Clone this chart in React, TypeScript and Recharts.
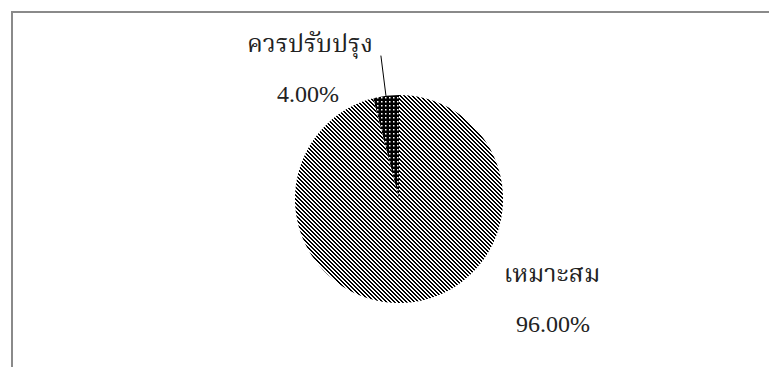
import React from "react";
import { PieChart, Pie, Cell } from "recharts";

const categories = ["ควรปรับปรุง", "เหมาะสม"];
const shares = [4.0, 96.0];
const fills = ["url(#dotFill)", "url(#stripeFill)"];

const data = categories.map((name, i) => ({ name, value: shares[i] }));

const CX = 399;
const CY = 199;
const R = 104;
const RAD = Math.PI / 180;

// label placement relative to the pie centre (name, then percent)
const labelPos = [
  { name: [-89, -147], pct: [-91, -97] },
  { name: [153, 83], pct: [154, 133] },
];

const thaiFont = "'Liberation Serif', 'Noto Serif Thai', 'Noto Sans Thai', serif";

// 4x4 tile of a "\" hatch, one pixel per rect so it stays crisp
const hatchPixels = [
  [0, 0], [1, 0], [1, 1], [2, 1], [2, 2], [3, 2], [3, 3], [0, 3],
];

function renderLabel(props: any) {
  const { cx, cy, midAngle, outerRadius, index, name, value } = props;
  const pos = labelPos[index];
  const cos = Math.cos(-midAngle * RAD);
  const sin = Math.sin(-midAngle * RAD);
  return (
    <g>
      {index === 0 && (
        <line
          x1={cx + outerRadius * cos}
          y1={cy + outerRadius * sin}
          x2={cx + outerRadius * 1.39 * cos}
          y2={cy + outerRadius * 1.39 * sin}
          stroke="#000"
          strokeWidth={1}
        />
      )}
      <text
        x={cx + pos.name[0]}
        y={cy + pos.name[1]}
        textAnchor="middle"
        fill="#222"
        fontSize={25}
        fontFamily={thaiFont}
      >
        {name}
      </text>
      <text
        x={cx + pos.pct[0]}
        y={cy + pos.pct[1]}
        textAnchor="middle"
        fill="#222"
        fontSize={24}
        fontFamily="'Liberation Serif', serif"
      >
        {value.toFixed(2)}%
      </text>
    </g>
  );
}

export default function App() {
  return (
    <div
      style={{
        position: "absolute",
        left: 0,
        top: 0,
        width: 769,
        height: 367,
        background: "#fff",
        overflow: "hidden",
      }}
    >
      <div
        style={{
          position: "absolute",
          left: 11,
          top: 11,
          width: 800,
          height: 400,
          borderTop: "2px solid #8a8a8a",
          borderLeft: "2px solid #8a8a8a",
        }}
      />
      <div style={{ position: "absolute", left: 0, top: 0 }}>
        <PieChart width={769} height={367} margin={{ top: 0, right: 0, bottom: 0, left: 0 }}>
          <defs>
            <pattern id="stripeFill" patternUnits="userSpaceOnUse" width={4} height={4}>
              <rect x={0} y={0} width={4} height={4} fill="#fff" />
              {hatchPixels.map(([x, y]) => (
                <rect
                  key={`${x}-${y}`}
                  x={x}
                  y={y}
                  width={1}
                  height={1}
                  fill="#000"
                  shapeRendering="crispEdges"
                />
              ))}
            </pattern>
            <pattern id="dotFill" patternUnits="userSpaceOnUse" width={4} height={4}>
              <rect x={0} y={0} width={4} height={4} fill="#000" />
              <rect x={1} y={1} width={1.5} height={1.5} fill="#fff" />
            </pattern>
          </defs>
          <Pie
            data={data}
            dataKey="value"
            nameKey="name"
            cx={CX}
            cy={CY}
            outerRadius={R}
            startAngle={90}
            endAngle={450}
            stroke="none"
            label={renderLabel}
            labelLine={false}
            isAnimationActive={false}
          >
            {data.map((d, i) => (
              <Cell key={d.name} fill={fills[i]} />
            ))}
          </Pie>
        </PieChart>
      </div>
    </div>
  );
}
